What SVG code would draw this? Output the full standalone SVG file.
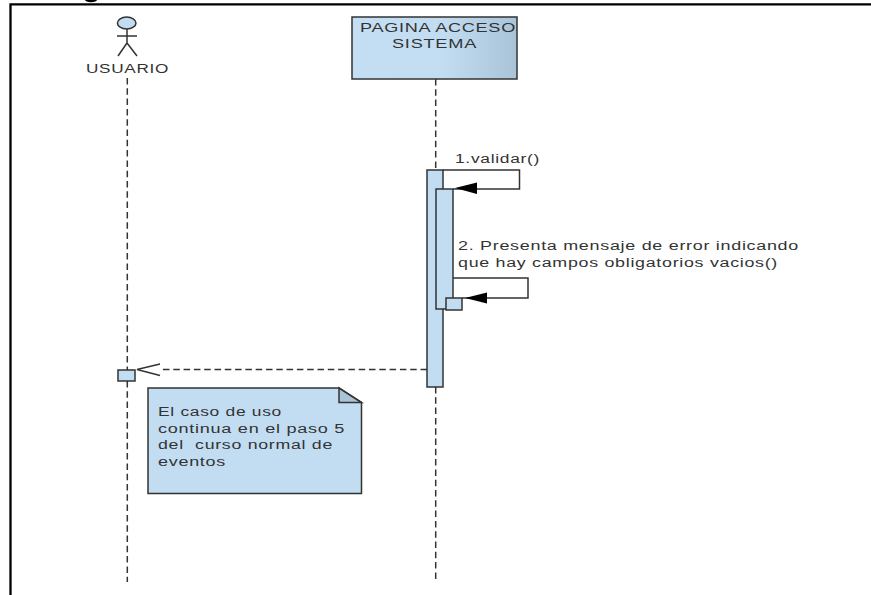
<svg xmlns="http://www.w3.org/2000/svg" width="871" height="595" viewBox="0 0 871 595">
<defs>
<linearGradient id="hd" x1="0" y1="0" x2="1" y2="0"><stop offset="0" stop-color="#c4def3"/><stop offset="0.55" stop-color="#c2ddf2"/><stop offset="1" stop-color="#a9c3d8"/></linearGradient>
</defs>
<style>
text{font-family:"Liberation Sans",Arial,sans-serif;font-size:12.500px;letter-spacing:.5px;fill:#333}
.life{stroke:#333;stroke-width:1.5;stroke-dasharray:6.5 3.8;fill:none}
.box{fill:#c2ddf2;stroke:#333;stroke-width:1.5}
.msg{fill:none;stroke:#333;stroke-width:1.5}
.head{fill:#000}
.frame{stroke:#000;stroke-width:2.3;fill:none}
</style>
<rect width="871" height="595" fill="#fff"/>
<g id="frame"><path class="frame" d="M10.500 595V4.300H871"/><ellipse cx="91" cy="0" rx="6" ry="2.200" fill="#000"/></g>
<g id="connectors">
<path class="life" d="M127.300 78V370M127.300 381V582"/>
<path class="life" d="M435.700 79V170M435.700 387V582"/>
<path class="msg" d="M443 170H519.500V189H453"/>
<path class="head" d="M455 188L477 182.500V194Z"/>
<path class="msg" d="M453 278H528V298H462"/>
<path class="head" d="M465 298L487 292.500V303.500Z"/>
<path class="life" d="M427 369.500H162"/>
<path class="msg" d="M160 364L137 369.500L160 375.500"/>
</g>
<g id="usuario">
<ellipse cx="126.700" cy="23" rx="9.300" ry="6" fill="#c2ddf2" stroke="#333" stroke-width="1.500"/>
<path class="msg" d="M127 29V43M117 36H137M127 43L118 56M127 43L137 56"/>
<text x="86" y="73" textLength="83" lengthAdjust="spacingAndGlyphs">USUARIO</text>
</g>
<g id="pagina">
<rect x="352" y="17" width="165" height="62" fill="url(#hd)" stroke="#333" stroke-width="1.500"/>
<text x="360" y="32" textLength="156" lengthAdjust="spacingAndGlyphs">PAGINA ACCESO</text>
<text x="392" y="48" textLength="85" lengthAdjust="spacingAndGlyphs">SISTEMA</text>
</g>
<g id="activacion1"><rect class="box" x="427" y="170" width="16" height="217"/></g>
<g id="activacion2"><rect class="box" x="436" y="189" width="17" height="120"/></g>
<g id="activacion3"><rect class="box" x="446" y="298" width="16" height="12"/></g>
<g id="activacion4"><rect class="box" x="118" y="370" width="17" height="11"/></g>
<g id="nota">
<path class="box" d="M148 388H339L361.500 402.500V493.500H148Z"/>
<path d="M339 388V402.500H361.500Z" fill="#a9c3d8" stroke="#333" stroke-width="1.500"/>
<text x="158" y="416" textLength="124" lengthAdjust="spacingAndGlyphs">El caso de uso</text>
<text x="158" y="433" textLength="187" lengthAdjust="spacingAndGlyphs">continua en el paso 5</text>
<text x="158" y="449" textLength="175" lengthAdjust="spacingAndGlyphs" xml:space="preserve">del  curso normal de</text>
<text x="158" y="466" textLength="68" lengthAdjust="spacingAndGlyphs">eventos</text>
</g>
<g id="etiquetas">
<text x="455" y="163" textLength="85" lengthAdjust="spacingAndGlyphs">1.validar()</text>
<text x="458" y="250" textLength="341" lengthAdjust="spacingAndGlyphs">2. Presenta mensaje de error indicando</text>
<text x="458" y="267" textLength="320" lengthAdjust="spacingAndGlyphs">que hay campos obligatorios vacios()</text>
</g>
</svg>
